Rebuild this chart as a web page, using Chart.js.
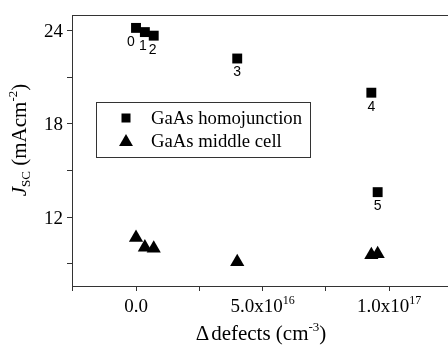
<!DOCTYPE html>
<html><head><meta charset="utf-8">
<script src="https://cdn.jsdelivr.net/npm/chart.js@4.4.1/dist/chart.umd.min.js"></script>
<style>html,body{margin:0;padding:0;background:#fff;}canvas{display:block;}</style>
</head><body>
<canvas id="c" width="448" height="349"></canvas>
<script>
// ---- data ----
const defectsX = [0, 3.5e15, 7e15, 4.0e16, 9.3e16, 9.55e16];
const homojunctionJsc = [24.17, 23.9, 23.67, 22.2, 20.0, 13.6];
const middleCellJsc = [10.67, 10.05, 9.98, 9.11, 9.56, 9.62];
const sampleLabels = ['0', '1', '2', '3', '4', '5'];
const seriesNames = ['GaAs homojunction', 'GaAs middle cell'];
const yTickValues = [9, 12, 15, 18, 21, 24];
const yLabelValues = [12, 18, 24];
const yLabelText = ['12', '18', '24'];
const xTickValues = [-2.5e16, 0, 2.5e16, 5e16, 7.5e16, 1e17];
const xLabelValues = [0, 5e16, 1e17];
const xLabelText = ['0.0', '5.0x10', '1.0x10'];
const xLabelExp = ['', '16', '17'];

const SERIF = '"Liberation Serif", "Times New Roman", serif';
const SANS = '"Liberation Sans", Arial, sans-serif';
const AXIS_COLOR = '#333';

function drawRich(ctx, parts, x, y, align) {
  let total = 0;
  parts.forEach(p => {
    ctx.font = (p.italic ? 'italic ' : '') + p.size + 'px ' + SERIF;
    p.w = ctx.measureText(p.t).width + (p.gap || 0);
    total += p.w;
  });
  let cx = align === 'center' ? x - total / 2 : (align === 'right' ? x - total : x);
  ctx.textAlign = 'left';
  ctx.textBaseline = 'alphabetic';
  parts.forEach(p => {
    ctx.font = (p.italic ? 'italic ' : '') + p.size + 'px ' + SERIF;
    ctx.fillText(p.t, cx, y + (p.dy || 0));
    cx += p.w;
  });
}

const textPlugin = {
  id: 'textPlugin',
  afterDraw(chart) {
    const ctx = chart.ctx;
    const xs = chart.scales.x, ys = chart.scales.y;
    ctx.save();
    ctx.fillStyle = '#000';

    // y tick labels
    ctx.font = '19px ' + SERIF;
    ctx.textAlign = 'right';
    ctx.textBaseline = 'alphabetic';
    yLabelValues.forEach((v, i) => {
      ctx.fillText(yLabelText[i], xs.left - 9, ys.getPixelForValue(v) + 6.5);
    });

    // x tick labels
    xLabelValues.forEach((v, i) => {
      const px = xs.getPixelForValue(v);
      const parts = [{t: xLabelText[i], size: 19}];
      if (xLabelExp[i]) parts.push({t: xLabelExp[i], size: 12, dy: -8});
      drawRich(ctx, parts, px, ys.bottom + 26, 'center');
    });

    // x title
    drawRich(ctx, [
      {t: 'Δ', size: 21, gap: 2},
      {t: 'defects (cm', size: 21},
      {t: '-3', size: 13, dy: -9},
      {t: ')', size: 21}
    ], 261, 340, 'center');

    // y title (rotated)
    ctx.save();
    ctx.translate(26, 140);
    ctx.rotate(-Math.PI / 2);
    drawRich(ctx, [
      {t: 'J', size: 21, italic: true},
      {t: 'SC', size: 13, dy: 4},
      {t: ' (mAcm', size: 21},
      {t: '-2', size: 13, dy: -9},
      {t: ')', size: 21}
    ], 0, 0, 'center');
    ctx.restore();

    // sample number labels under the squares
    const meta = chart.getDatasetMeta(0);
    const dxs = [-5, -2, -1, 0, 0, 0];
    ctx.font = '14px ' + SANS;
    ctx.textAlign = 'center';
    ctx.textBaseline = 'middle';
    meta.data.forEach((pt, i) => {
      ctx.fillText(sampleLabels[i], pt.x + dxs[i], pt.y + 14);
    });

    // legend box
    const bx = 96.5, by = 102.5, bw = 214, bh = 55;
    ctx.strokeStyle = AXIS_COLOR;
    ctx.lineWidth = 1;
    ctx.strokeRect(bx, by, bw, bh);
    const rows = [118, 141];
    ctx.fillStyle = '#000';
    ctx.fillRect(126 - 4.5, rows[0] - 4.5, 9, 9);
    const r = 8;
    ctx.beginPath();
    ctx.moveTo(126, rows[1] - r * 0.75 - 1);
    ctx.lineTo(126 + 0.866 * r, rows[1] + 0.75 * r - 1);
    ctx.lineTo(126 - 0.866 * r, rows[1] + 0.75 * r - 1);
    ctx.closePath();
    ctx.fill();
    ctx.font = '18.7px ' + SERIF;
    ctx.textAlign = 'left';
    ctx.textBaseline = 'alphabetic';
    seriesNames.forEach((n, i) => ctx.fillText(n, 151, rows[i] + 6));
    ctx.restore();
  }
};

const xMin = -2.53e16, xMax = 1.233e17;
const axisBase = {
  type: 'linear',
  ticks: {display: false},
  grid: {drawOnChartArea: false, drawTicks: true, tickLength: 5, color: AXIS_COLOR, tickColor: AXIS_COLOR, lineWidth: 1},
  border: {display: true, color: AXIS_COLOR, width: 1}
};

new Chart(document.getElementById('c'), {
  type: 'scatter',
  data: {
    datasets: [
      {
        label: seriesNames[0],
        data: defectsX.map((x, i) => ({x: x, y: homojunctionJsc[i]})),
        pointStyle: 'rect', pointRadius: 7, pointHoverRadius: 7,
        backgroundColor: '#000', borderColor: '#000', borderWidth: 0
      },
      {
        label: seriesNames[1],
        data: defectsX.map((x, i) => ({x: x, y: middleCellJsc[i]})),
        pointStyle: 'triangle', pointRadius: 8.2, pointHoverRadius: 8.2,
        backgroundColor: '#000', borderColor: '#000', borderWidth: 0
      }
    ]
  },
  options: {
    responsive: false,
    animation: false,
    events: [],
    layout: {autoPadding: false, padding: {left: 67, top: 7, right: 0, bottom: 58}},
    plugins: {legend: {display: false}, tooltip: {enabled: false}, title: {display: false}},
    scales: {
      x: Object.assign({}, axisBase, {
        position: 'bottom', min: xMin, max: xMax,
        afterBuildTicks: s => { s.ticks = xTickValues.map(v => ({value: v})); }
      }),
      x2: {
        type: 'linear', position: 'top', min: xMin, max: xMax,
        ticks: {display: false}, grid: {display: false},
        border: {display: true, color: AXIS_COLOR, width: 1}
      },
      y: Object.assign({}, axisBase, {
        position: 'left', min: 7.56, max: 25,
        afterBuildTicks: s => { s.ticks = yTickValues.map(v => ({value: v})); }
      })
    }
  },
  plugins: [textPlugin]
});
</script>
</body></html>
